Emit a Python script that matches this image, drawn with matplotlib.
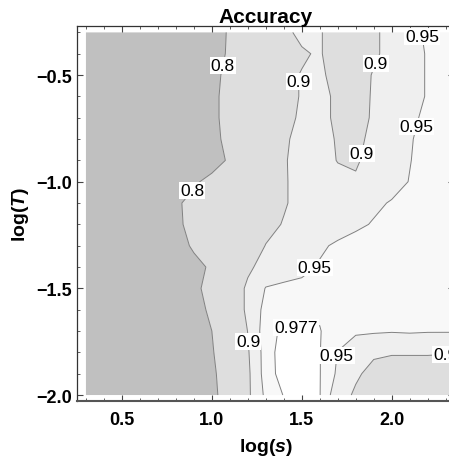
import numpy as np
import matplotlib
matplotlib.use('Agg')
import matplotlib.pyplot as plt
from matplotlib.ticker import MultipleLocator

plt.rcParams['font.family'] = ['Liberation Sans', 'DejaVu Sans']
plt.rcParams['mathtext.fontset'] = 'custom'
plt.rcParams['mathtext.rm'] = 'Liberation Sans:bold'
plt.rcParams['mathtext.it'] = 'Liberation Sans:bold:italic'
plt.rcParams['mathtext.bf'] = 'Liberation Sans:bold'

# grid: log(s) columns, log(T) rows (bottom to top)
log_s = [0.3, 0.4, 0.5, 0.6, 0.7, 0.8, 0.9, 1.0, 1.1, 1.2, 1.3,
         1.4, 1.5, 1.6, 1.7, 1.8, 1.9, 2.0, 2.1, 2.2, 2.3, 2.4]
log_T = [-2.0, -1.9, -1.8, -1.7, -1.6, -1.5, -1.4, -1.3, -1.2,
         -1.1, -1.0, -0.9, -0.8, -0.7, -0.6, -0.5, -0.4, -0.3]

acc_m20 = [0.70, 0.70, 0.71, 0.72, 0.73, 0.75, 0.77, 0.79, 0.82, 0.89, 0.96,
           0.978, 0.985, 0.978, 0.93, 0.89, 0.87, 0.86, 0.86, 0.86, 0.86, 0.86]
acc_m19 = [0.70, 0.70, 0.71, 0.72, 0.73, 0.75, 0.77, 0.79, 0.83, 0.89, 0.97,
           0.983, 0.985, 0.978, 0.945, 0.91, 0.88, 0.87, 0.87, 0.87, 0.87, 0.87]
acc_m18 = [0.70, 0.70, 0.71, 0.72, 0.73, 0.75, 0.77, 0.795, 0.84, 0.895, 0.97,
           0.984, 0.985, 0.978, 0.949, 0.93, 0.91, 0.905, 0.905, 0.905, 0.903, 0.903]
acc_m17 = [0.70, 0.70, 0.71, 0.72, 0.73, 0.75, 0.77, 0.80, 0.85, 0.901, 0.975,
           0.978, 0.978, 0.978, 0.965, 0.955, 0.955, 0.953, 0.955, 0.953, 0.953, 0.953]
acc_m16 = [0.70, 0.70, 0.71, 0.72, 0.73, 0.75, 0.78, 0.81, 0.86, 0.91, 0.965,
           0.97, 0.972, 0.974, 0.97, 0.965, 0.962, 0.96, 0.96, 0.96, 0.96, 0.96]
acc_m15 = [0.70, 0.70, 0.71, 0.72, 0.73, 0.76, 0.79, 0.815, 0.86, 0.91, 0.952,
           0.958, 0.96, 0.963, 0.965, 0.965, 0.967, 0.968, 0.968, 0.968, 0.968, 0.968]
acc_m14 = [0.70, 0.70, 0.71, 0.72, 0.73, 0.75, 0.78, 0.81, 0.84, 0.89, 0.92,
           0.93, 0.94, 0.953, 0.96, 0.965, 0.968, 0.97, 0.97, 0.97, 0.97, 0.97]
acc_m13 = [0.70, 0.70, 0.71, 0.72, 0.74, 0.77, 0.81, 0.84, 0.86, 0.88, 0.901,
           0.915, 0.93, 0.945, 0.955, 0.96, 0.965, 0.968, 0.97, 0.97, 0.97, 0.97]
acc_m12 = [0.70, 0.70, 0.71, 0.72, 0.74, 0.79, 0.815, 0.84, 0.86, 0.875, 0.89,
           0.902, 0.915, 0.925, 0.935, 0.945, 0.952, 0.96, 0.965, 0.968, 0.97, 0.97]
acc_m11 = [0.70, 0.70, 0.71, 0.72, 0.75, 0.79, 0.82, 0.84, 0.86, 0.87, 0.885,
           0.897, 0.91, 0.92, 0.93, 0.935, 0.945, 0.952, 0.96, 0.965, 0.968, 0.968]
acc_m10 = [0.70, 0.70, 0.71, 0.72, 0.74, 0.77, 0.79, 0.82, 0.85, 0.87, 0.885,
           0.897, 0.91, 0.925, 0.915, 0.905, 0.92, 0.94, 0.951, 0.96, 0.965, 0.965]
acc_m09 = [0.70, 0.70, 0.71, 0.71, 0.72, 0.72, 0.73, 0.77, 0.81, 0.85, 0.88,
           0.897, 0.912, 0.92, 0.898, 0.895, 0.915, 0.935, 0.949, 0.96, 0.965, 0.965]
acc_m08 = [0.70, 0.70, 0.71, 0.71, 0.72, 0.72, 0.73, 0.78, 0.82, 0.86, 0.88,
           0.895, 0.91, 0.92, 0.895, 0.89, 0.91, 0.93, 0.948, 0.958, 0.963, 0.963]
acc_m07 = [0.70, 0.70, 0.70, 0.71, 0.71, 0.72, 0.73, 0.78, 0.83, 0.86, 0.87,
           0.89, 0.905, 0.915, 0.89, 0.885, 0.905, 0.925, 0.945, 0.955, 0.962, 0.962]
acc_m06 = [0.70, 0.70, 0.70, 0.71, 0.71, 0.72, 0.73, 0.78, 0.83, 0.86, 0.87,
           0.89, 0.902, 0.915, 0.89, 0.88, 0.905, 0.925, 0.94, 0.952, 0.96, 0.96]
acc_m05 = [0.70, 0.70, 0.70, 0.71, 0.71, 0.72, 0.73, 0.78, 0.82, 0.85, 0.87,
           0.89, 0.902, 0.91, 0.88, 0.87, 0.905, 0.925, 0.94, 0.952, 0.96, 0.96]
acc_m04 = [0.70, 0.70, 0.71, 0.71, 0.72, 0.72, 0.73, 0.77, 0.81, 0.85, 0.87,
           0.88, 0.895, 0.905, 0.87, 0.86, 0.89, 0.92, 0.94, 0.952, 0.96, 0.96]
acc_m03 = [0.70, 0.70, 0.71, 0.71, 0.72, 0.72, 0.73, 0.76, 0.81, 0.85, 0.87,
           0.89, 0.91, 0.905, 0.87, 0.86, 0.89, 0.92, 0.94, 0.955, 0.96, 0.96]

accuracy = np.array([acc_m20, acc_m19, acc_m18, acc_m17, acc_m16, acc_m15,
                     acc_m14, acc_m13, acc_m12, acc_m11, acc_m10, acc_m09,
                     acc_m08, acc_m07, acc_m06, acc_m05, acc_m04, acc_m03])

levels = [0.8, 0.9, 0.95, 0.977]
fill_colors = ['#c0c0c0', '#dedede', '#efefef', '#f8f8f8', '#ffffff']

# where the contour labels sit (snapped onto the lines by clabel)
label_spots = [(1.06, -0.455), (0.95, -1.08), (1.47, -0.53), (1.95, -0.46),
               (1.78, -0.86), (2.16, -0.32), (2.18, -0.75), (1.57, -1.40),
               (1.19, -1.75), (1.47, -1.72), (1.75, -1.82), (2.30, -1.855)]

fig = plt.figure(figsize=(4.49, 4.60), dpi=100)
ax = fig.add_axes([0.1726, 0.1261, 0.8396, 0.8152])

X, Y = np.meshgrid(log_s, log_T)
ax.contourf(X, Y, accuracy, levels=[0.0] + levels + [1.0], colors=fill_colors,
            antialiased=True)
cs = ax.contour(X, Y, accuracy, levels=levels, colors='#808080', linewidths=0.7)
labels = ax.clabel(cs, inline=False, fontsize=12.5, colors='black',
                   fmt=lambda v: f'{v:g}', manual=label_spots)
for t in labels:
    t.set_rotation(0)
    t.set_bbox(dict(facecolor='white', edgecolor='none', pad=0.6))

ax.set_xlim(0.253, 2.349)
ax.set_ylim(-2.028, -0.270)

ax.set_xticks([0.5, 1.0, 1.5, 2.0])
ax.set_xticklabels(['0.5', '1.0', '1.5', '2.0'], fontweight='bold', fontsize=13)
ax.set_yticks([-2.0, -1.5, -1.0, -0.5])
ax.set_yticklabels(['\u22122.0', '\u22121.5', '\u22121.0', '\u22120.5'],
                   fontweight='bold', fontsize=13)
ax.xaxis.set_minor_locator(MultipleLocator(0.1))
ax.yaxis.set_minor_locator(MultipleLocator(0.1))
ax.tick_params(which='both', direction='in', top=True, right=True, color='#444444')
ax.tick_params(which='major', length=4, width=0.8)
ax.tick_params(which='minor', length=2, width=0.6)
ax.tick_params(axis='x', pad=7)
ax.tick_params(axis='y', pad=4)

for side in ['left', 'top', 'right']:
    ax.spines[side].set_linewidth(0.9)
    ax.spines[side].set_color('#333333')
ax.spines['bottom'].set_linewidth(1.5)
ax.spines['bottom'].set_color('#555555')

ax.set_title('Accuracy', fontsize=15, fontweight='bold', pad=3)
ax.set_xlabel(r'$\mathrm{log(}s\mathrm{)}$', fontsize=14, labelpad=6)
ax.set_ylabel(r'$\mathrm{log(}T\mathrm{)}$', fontsize=14, labelpad=4)

plt.savefig('out.png', dpi=100)
